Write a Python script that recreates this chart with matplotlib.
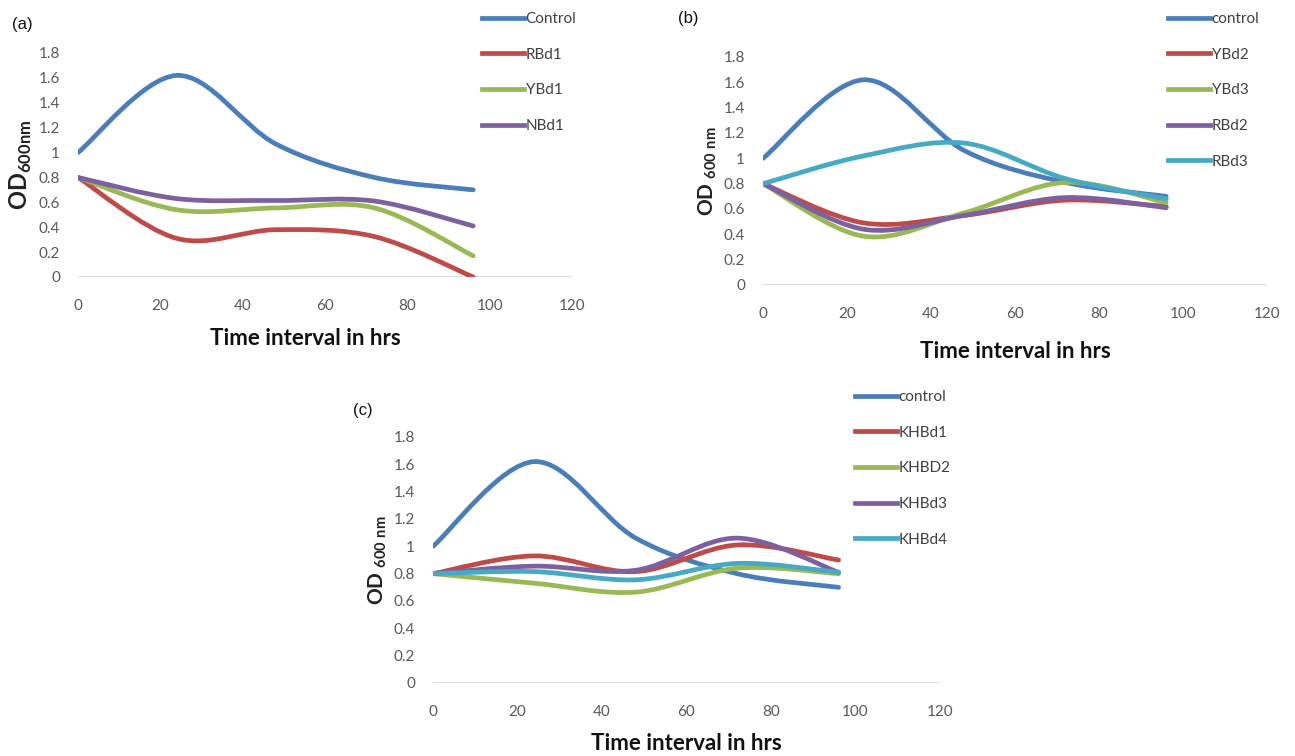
import matplotlib
matplotlib.use("Agg")
import matplotlib.pyplot as plt
from matplotlib.path import Path
from matplotlib.patches import PathPatch
from matplotlib.lines import Line2D
import numpy as np

plt.rcParams['font.family'] = ['Lato', 'DejaVu Sans']
plt.rcParams['mathtext.fontset'] = 'custom'
plt.rcParams['mathtext.rm'] = 'Lato'
plt.rcParams['mathtext.bf'] = 'Lato:bold'

# ---------------- data ----------------
hours = [0, 24, 48, 72, 96]

a_names = ["Control", "RBd1", "YBd1", "NBd1"]
a_control = [1.00, 1.62, 1.07, 0.80, 0.70]
a_rbd1 = [0.80, 0.31, 0.38, 0.325, 0.00]
a_ybd1 = [0.80, 0.54, 0.555, 0.555, 0.17]
a_nbd1 = [0.80, 0.63, 0.615, 0.61, 0.41]

b_names = ["control", "YBd2", "YBd3", "RBd2", "RBd3"]
b_control = [1.00, 1.62, 1.06, 0.81, 0.70]
b_ybd2 = [0.80, 0.49, 0.55, 0.67, 0.62]
b_ybd3 = [0.80, 0.385, 0.57, 0.81, 0.65]
b_rbd2 = [0.80, 0.44, 0.55, 0.69, 0.61]
b_rbd3 = [0.80, 1.02, 1.12, 0.84, 0.68]

c_names = ["control", "KHBd1", "KHBD2", "KHBd3", "KHBd4"]
c_control = [1.00, 1.62, 1.06, 0.80, 0.70]
c_khbd1 = [0.80, 0.93, 0.815, 1.01, 0.90]
c_khbd2 = [0.80, 0.73, 0.665, 0.84, 0.80]
c_khbd3 = [0.80, 0.855, 0.825, 1.06, 0.81]
c_khbd4 = [0.80, 0.815, 0.755, 0.875, 0.81]

y_ticks = [0, 0.2, 0.4, 0.6, 0.8, 1, 1.2, 1.4, 1.6, 1.8]
y_ticklabels = ["0", "0.2", "0.4", "0.6", "0.8", "1", "1.2", "1.4", "1.6", "1.8"]
x_ticks = [0, 20, 40, 60, 80, 100, 120]

colors = ["#4A7EBB", "#BE4B48", "#98B954", "#7D60A0", "#46AAC5"]

W, H = 1295, 756
fig = plt.figure(figsize=(W / 100, H / 100), dpi=100)


def smooth_path(xs, ys):
    """Excel-like smoothed line: cubic Bezier through the data points."""
    pts = np.column_stack([xs, ys]).astype(float)
    n = len(pts)
    verts = [pts[0]]
    codes = [Path.MOVETO]
    for i in range(n - 1):
        p0 = pts[i - 1] if i > 0 else pts[i]
        p1 = pts[i]
        p2 = pts[i + 1]
        p3 = pts[i + 2] if i + 2 < n else pts[i + 1]
        c1 = p1 + (p2 - p0) / 6.0
        c2 = p2 - (p3 - p1) / 6.0
        verts += [c1, c2, p2]
        codes += [Path.CURVE4] * 3
    return Path(verts, codes)


def fig_rect(x0, x1, y_top, y_bot):
    return [x0 / W, 1 - y_bot / H, (x1 - x0) / W, (y_bot - y_top) / H]


def make_panel(rect, series, names, ylabel, ylabel_size, xlabel_xy, panel_lbl, lbl_xy, leg_xy):
    ax = fig.add_axes(rect)
    handles = []
    for vals, name, col in zip(series, names, colors):
        patch = PathPatch(smooth_path(hours, vals), facecolor='none', edgecolor=col,
                          lw=3.4, capstyle='round', joinstyle='round', zorder=3)
        ax.add_patch(patch)
        handles.append(Line2D([], [], color=col, lw=3.4, label=name))
    ax.set_xlim(0, 120)
    ax.set_ylim(0, 1.8)
    ax.set_xticks(x_ticks)
    ax.set_yticks(y_ticks)
    ax.set_yticklabels(y_ticklabels)
    ax.tick_params(length=0, labelsize=11, labelcolor="#595959")
    ax.tick_params(axis='x', pad=16)
    ax.tick_params(axis='y', pad=13)
    for s in ax.spines.values():
        s.set_visible(False)
    ax.axhline(0, color="#D9D9D9", lw=1.2, zorder=1)
    ax.patch.set_alpha(0)
    ax.set_ylabel(ylabel, fontsize=ylabel_size, fontweight='bold', color="#222222", labelpad=3)
    fig.text(xlabel_xy[0] / W, 1 - xlabel_xy[1] / H, "Time interval in hrs", fontsize=16,
             fontweight='bold', ha='center', va='center', color="#111111")
    fig.text(lbl_xy[0] / W, 1 - lbl_xy[1] / H, panel_lbl, fontsize=12,
             ha='left', va='center', color="#111111", family=['Liberation Sans'])
    fig.legend(handles=handles, loc='upper left',
               bbox_to_anchor=(leg_xy[0] / W, 1 - leg_xy[1] / H),
               frameon=False, fontsize=11, handlelength=2.75, handletextpad=0.1,
               labelspacing=1.42, borderpad=0, borderaxespad=0,
               labelcolor="#404040")
    return ax


make_panel(fig_rect(78, 572, 53, 277),
           [a_control, a_rbd1, a_ybd1, a_nbd1], a_names,
           r'$\mathbf{OD}_{\mathbf{600nm}}$', 17, (305, 339), "(a)", (12, 24), (482, 12))

make_panel(fig_rect(763, 1267, 57, 285),
           [b_control, b_ybd2, b_ybd3, b_rbd2, b_rbd3], b_names,
           r'$\mathbf{OD}_{\ \mathbf{600\ nm}}$', 15, (1015, 351), "(b)", (678, 18), (1168, 12))

make_panel(fig_rect(433, 940, 437, 683),
           [c_control, c_khbd1, c_khbd2, c_khbd3, c_khbd4], c_names,
           r'$\mathbf{OD}_{\ \mathbf{600\ nm}}$', 15, (686, 743), "(c)", (353, 410), (855, 390))

fig.savefig("out.png", dpi=100)
